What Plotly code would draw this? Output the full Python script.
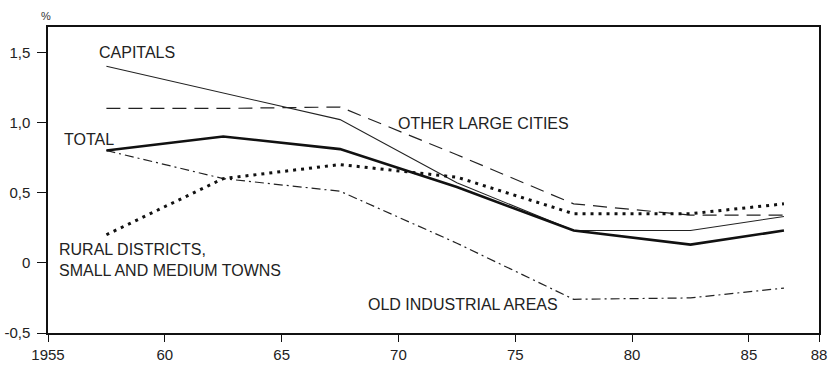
import plotly.graph_objects as go

years = [1957.5, 1962.5, 1967.5, 1972.5, 1977.5, 1982.5, 1986.5]
total = [0.80, 0.90, 0.81, 0.54, 0.23, 0.13, 0.23]
capitals = [1.40, 1.21, 1.02, 0.57, 0.23, 0.23, 0.33]
other_large = [1.10, 1.10, 1.11, 0.77, 0.42, 0.34, 0.34]
rural = [0.20, 0.60, 0.70, 0.61, 0.35, 0.35, 0.42]
old_industrial = [0.80, 0.60, 0.51, 0.14, -0.26, -0.25, -0.18]

x_tickvals = [1955, 1960, 1965, 1970, 1975, 1980, 1985, 1988]
x_ticktext = ["1955", "60", "65", "70", "75", "80", "85", "88"]
y_tickvals = [-0.5, 0, 0.5, 1.0, 1.5]
y_ticktext = ["-0,5", "0", "0,5", "1,0", "1,5"]

FONT = "Liberation Sans, Arial, sans-serif"

fig = go.Figure()
fig.add_trace(go.Scatter(x=years, y=other_large, mode="lines",
                         line=dict(color="#222", width=1.2, dash="14px,8px")))
fig.add_trace(go.Scatter(x=years, y=capitals, mode="lines",
                         line=dict(color="#222", width=1.1)))
fig.add_trace(go.Scatter(x=years, y=old_industrial, mode="lines",
                         line=dict(color="#222", width=1.2, dash="9px,4px,2px,4px")))
fig.add_trace(go.Scatter(x=years, y=rural, mode="lines",
                         line=dict(color="#111", width=3, dash="3px,5px")))
fig.add_trace(go.Scatter(x=years, y=total, mode="lines",
                         line=dict(color="#111", width=2.6)))

labels = [
    ("CAPITALS", 1957.1, 1.50, "left"),
    ("TOTAL", 1955.6, 0.88, "left"),
    ("OTHER LARGE CITIES", 1969.9, 0.99, "left"),
    ("RURAL DISTRICTS,<br>SMALL AND MEDIUM TOWNS", 1955.4, 0.02, "left"),
    ("OLD INDUSTRIAL AREAS", 1968.6, -0.30, "left"),
]
for text, x, y, anchor in labels:
    fig.add_annotation(x=x, y=y, text=text, showarrow=False, xanchor=anchor,
                       yanchor="middle", align="left",
                       font=dict(family=FONT, size=16, color="#222"))

fig.add_annotation(x=0, xref="paper", y=1, yref="paper", text="%", showarrow=False,
                   xanchor="center", yanchor="bottom", xshift=-2, yshift=3,
                   font=dict(family=FONT, size=11, color="#333"))

fig.update_layout(
    width=834, height=368,
    margin=dict(l=48, r=15, t=27, b=35),
    paper_bgcolor="white", plot_bgcolor="white",
    showlegend=False,
    font=dict(family=FONT, size=15, color="#222"),
)
fig.update_xaxes(range=[1955, 1988], tickvals=x_tickvals, ticktext=x_ticktext,
                 showgrid=False, zeroline=False, showline=True, linecolor="#111",
                 linewidth=1.5, mirror=True, ticks="outside", ticklen=7,
                 tickcolor="#111", tickfont=dict(size=15), automargin=False)
fig.update_yaxes(range=[-0.5, 1.68], tickvals=y_tickvals, ticktext=y_ticktext,
                 showgrid=False, zeroline=False, showline=True, linecolor="#111",
                 linewidth=1.5, mirror=True, ticks="outside", ticklen=9,
                 ticklabelstandoff=4,
                 tickcolor="#111", tickfont=dict(size=15), automargin=False)

fig.write_html("out.html", config={"displayModeBar": False},
               post_script="document.body.style.margin='0';document.body.style.overflow='hidden';")
